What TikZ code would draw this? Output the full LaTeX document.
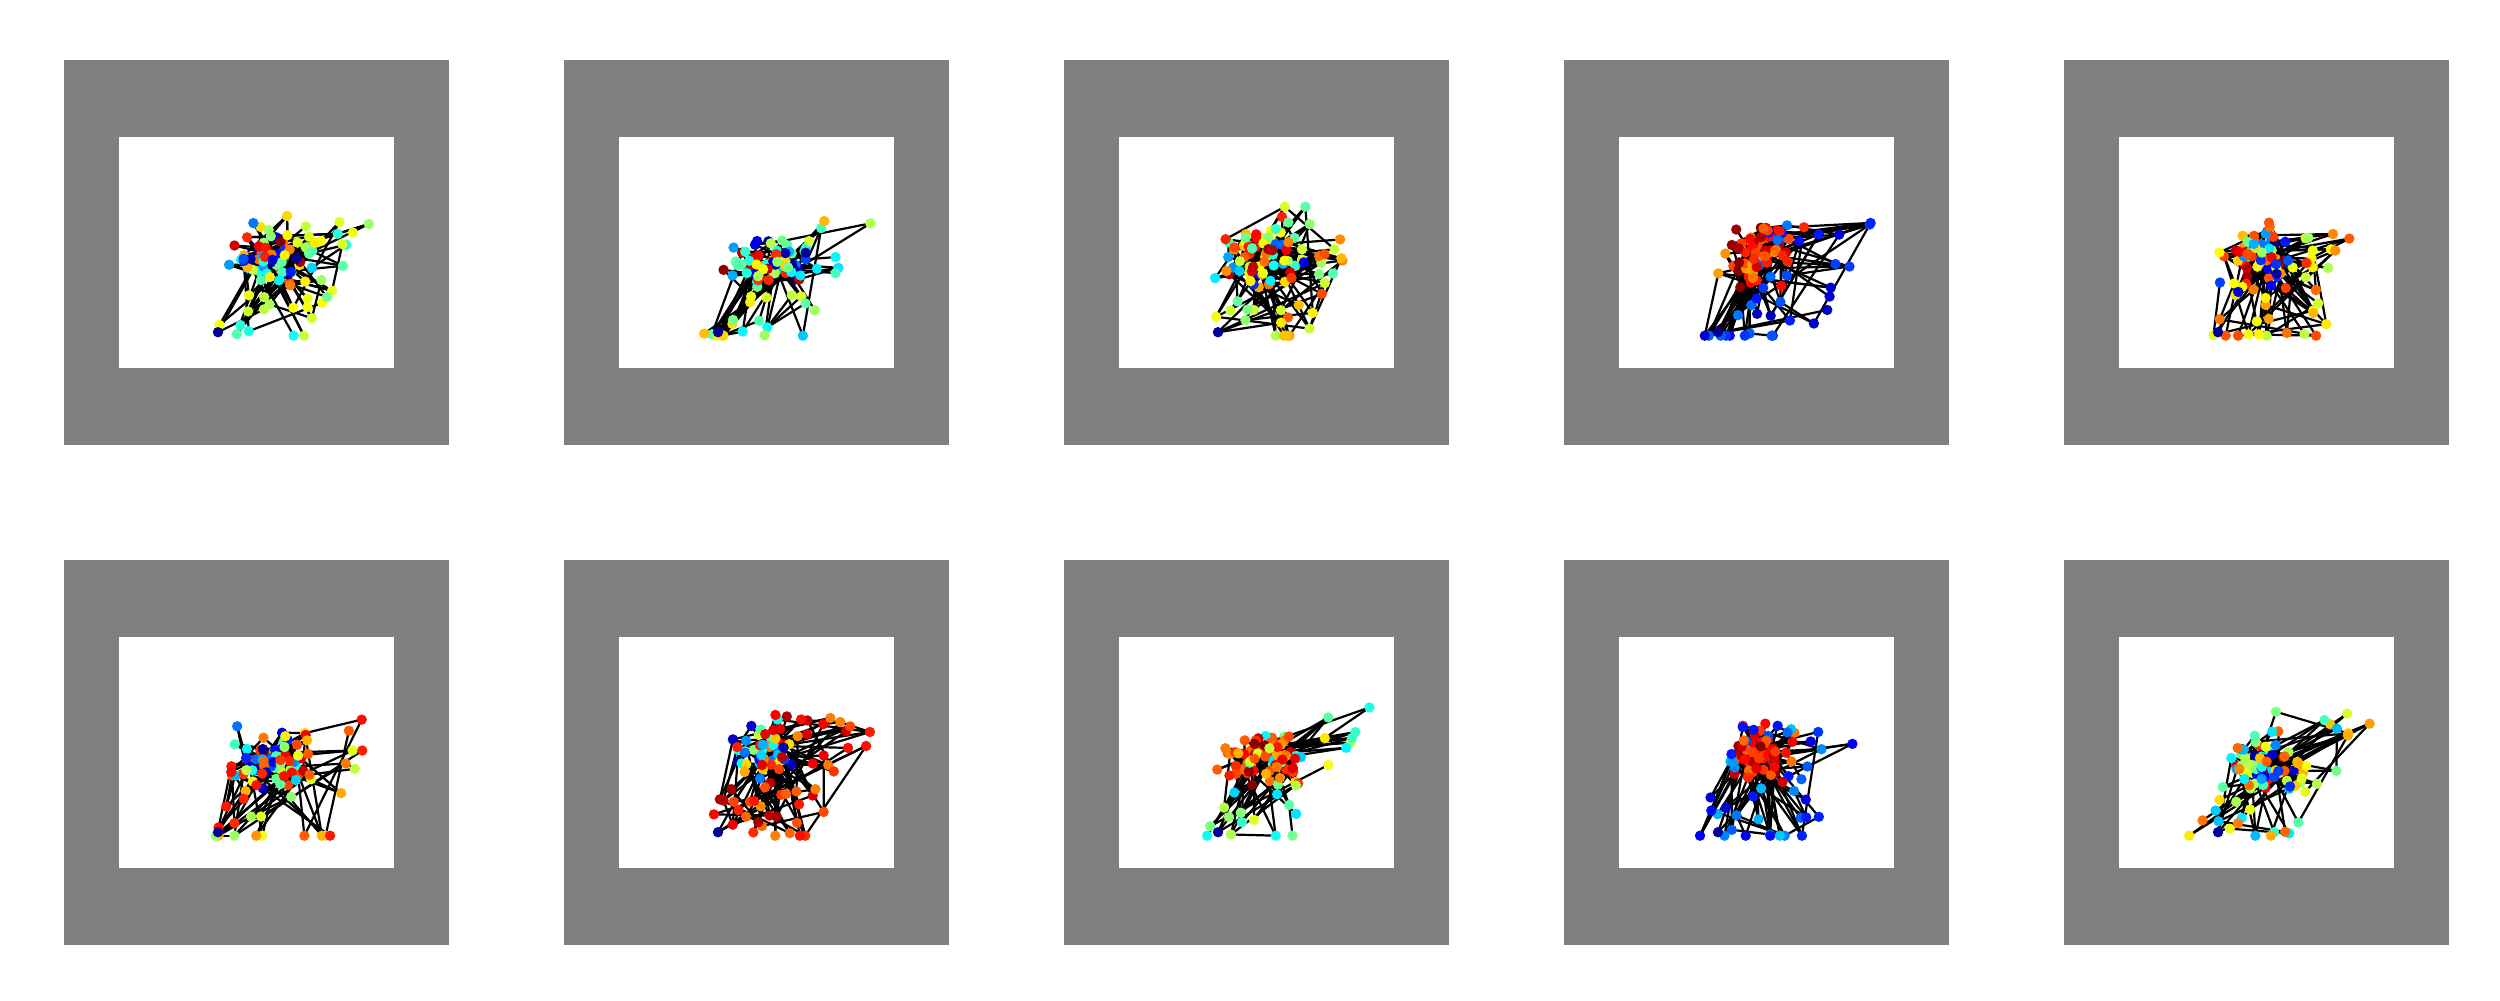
\documentclass[tikz,border=0pt]{standalone}
\usetikzlibrary{calc}
\definecolor{frameGray}{HTML}{808080}
\tikzset{
  frame/.style={fill=frameGray},
  plotarea/.style={fill=white},
  edge/.style={black, line width=0.22mm},
}

\begin{document}
\begin{tikzpicture}[x=0.1mm, y=-0.1mm]
  \useasboundingbox (0,0) rectangle (2500,1000);
  % col/row/seed/core x,y/top,bottom/mid x,skew,half width/outer colour/core colour
  \foreach \col/\row/\seed/\cx/\cy/\ylo/\yhi/\xm/\sk/\hx/\tout/\tsp/\cin/\csp in {
      0/0/11/0.56/0.52/0.34/0.86/0.635/0.115/0.18/0.52/0.15/0.5/0.5,
      1/0/23/0.55/0.55/0.33/0.86/0.61/0.125/0.2/0.5/0.2/0.5/0.5,
      2/0/37/0.51/0.53/0.30/0.86/0.63/0.14/0.19/0.65/0.2/0.55/0.45,
      3/0/41/0.52/0.505/0.36/0.86/0.61/0.11/0.21/0.15/0.1/0.85/0.15,
      4/0/53/0.51/0.52/0.40/0.86/0.62/0.09/0.21/0.68/0.15/0.5/0.5,
      0/1/67/0.545/0.55/0.35/0.86/0.63/0.07/0.23/0.7/0.2/0.5/0.5,
      1/1/71/0.53/0.49/0.33/0.86/0.62/0.115/0.23/0.85/0.12/0.45/0.45,
      2/1/83/0.52/0.53/0.25/0.86/0.62/0.14/0.18/0.5/0.18/0.85/0.15,
      3/1/97/0.50/0.50/0.37/0.86/0.57/0.08/0.23/0.2/0.12/0.88/0.12,
      4/1/101/0.53/0.55/0.32/0.86/0.59/0.14/0.21/0.55/0.25/0.5/0.5}{
    \pgfmathsetseed{\seed}
    \pgfmathsetmacro\ox{64+500*\col+55}
    \pgfmathsetmacro\oy{60+500*\row+77}
    \fill[frame] (\ox-55,\oy-77) rectangle ++(385,385);
    \fill[plotarea] (\ox,\oy) rectangle ++(275,231);
    \foreach \k in {0,...,99}{
      \pgfmathtruncatemacro\isfar{rnd<0.42}
      \ifnum\isfar=1
        \pgfmathsetmacro\vv{min(1,-1+2.2*rnd)}
        \pgfmathsetmacro\fy{\ylo+(\yhi-\ylo)*(\vv+1)/2}
        \pgfmathsetmacro\fx{\xm-\sk*\vv+\hx*rand}
        \pgfmathsetmacro\tval{min(1,max(0,\tout+\tsp*rand))}
      \else
        \pgfmathsetmacro\fx{\cx+0.068*(rand+rand+rand)}
        \pgfmathsetmacro\fy{\cy+0.058*(rand+rand+rand)}
        \pgfmathsetmacro\tval{min(1,max(0,\cin+\csp*rand))}
      \fi
      \ifnum\k=0 \def\fx{0.36}\def\fy{0.845}\def\tval{0.02}\fi
      \pgfmathsetmacro\cr{min(1,max(0,1.5-abs(4*\tval-3)))}
      \pgfmathsetmacro\cg{min(1,max(0,1.5-abs(4*\tval-2)))}
      \pgfmathsetmacro\cb{min(1,max(0,1.5-abs(4*\tval-1)))}
      \xglobal\definecolor{dot\k}{rgb}{\cr,\cg,\cb}
      \coordinate (n\k) at (\ox+275*\fx,\oy+231*\fy);
    }
    \foreach \k in {0,...,99}{
      \pgfmathrandominteger{\tgt}{0}{99}
      \draw[edge] (n\k) -- (n\tgt);
      \pgfmathtruncatemacro\more{rnd<0.3}
      \ifnum\more=1
        \pgfmathrandominteger{\tgt}{0}{99}
        \draw[edge] (n\k) -- (n\tgt);
      \fi
    }
    \foreach \k in {99,98,...,0}
      \fill[dot\k] (n\k) circle (5.2);
  }
\end{tikzpicture}
\end{document}
